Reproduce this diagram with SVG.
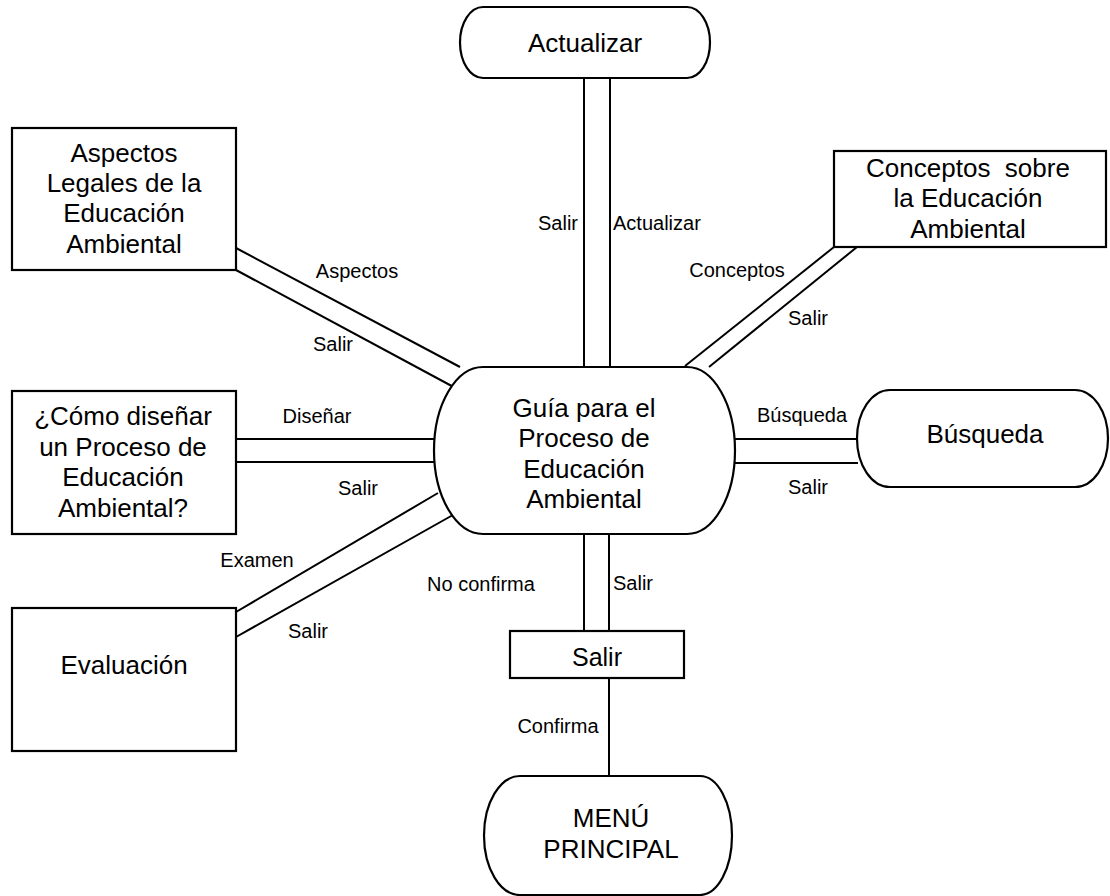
<svg xmlns="http://www.w3.org/2000/svg" width="1110" height="896" viewBox="0 0 1110 896">
  <style>
    .shape { fill: #ffffff; stroke: #000000; stroke-width: 2.2; }
    .link { stroke: #000000; stroke-width: 2; fill: none; }
    .node-text { font-family: "Liberation Sans", Arial, sans-serif; font-size: 26px; fill: #000000; text-anchor: middle; }
    .label { font-family: "Liberation Sans", Arial, sans-serif; font-size: 20px; fill: #000000; }
    .mid { text-anchor: middle; }
    .end { text-anchor: end; }
  </style>
  <rect width="1110" height="896" fill="#ffffff"/>

  <!-- connectors (drawn first, nodes sit on top) -->
  <g id="connectors">
    <!-- Actualizar -->
    <line class="link" x1="584" y1="78" x2="584" y2="367"/>
    <line class="link" x1="610" y1="78" x2="610" y2="367"/>
    <!-- Aspectos -->
    <line class="link" x1="236" y1="248" x2="460" y2="367"/>
    <line class="link" x1="236" y1="270" x2="461" y2="391"/>
    <!-- Conceptos -->
    <line class="link" x1="834" y1="247" x2="685" y2="366"/>
    <line class="link" x1="857" y1="247" x2="709" y2="367"/>
    <!-- Diseñar -->
    <line class="link" x1="236" y1="439" x2="435" y2="439"/>
    <line class="link" x1="236" y1="462" x2="435" y2="462"/>
    <!-- Búsqueda -->
    <line class="link" x1="734" y1="439" x2="857" y2="439"/>
    <line class="link" x1="734" y1="463" x2="858" y2="463"/>
    <!-- Examen -->
    <line class="link" x1="236" y1="612" x2="438" y2="493"/>
    <line class="link" x1="236" y1="637" x2="460" y2="511"/>
    <!-- Salir -->
    <line class="link" x1="584" y1="534" x2="584" y2="631"/>
    <line class="link" x1="609" y1="534" x2="609" y2="631"/>
    <!-- Confirma -->
    <line class="link" x1="609" y1="678" x2="609" y2="776"/>

    <!-- connector labels -->
    <text class="label end" x="578" y="230">Salir</text>
    <text class="label" x="613" y="230">Actualizar</text>
    <text class="label mid" x="357" y="278">Aspectos</text>
    <text class="label mid" x="333" y="351">Salir</text>
    <text class="label mid" x="737" y="277">Conceptos</text>
    <text class="label mid" x="808" y="325">Salir</text>
    <text class="label mid" x="317" y="423">Diseñar</text>
    <text class="label mid" x="358" y="495">Salir</text>
    <text class="label mid" x="802" y="422">Búsqueda</text>
    <text class="label mid" x="808" y="494">Salir</text>
    <text class="label mid" x="257" y="567">Examen</text>
    <text class="label mid" x="308" y="638">Salir</text>
    <text class="label mid" x="481" y="591">No confirma</text>
    <text class="label" x="613" y="590">Salir</text>
    <text class="label mid" x="558" y="733">Confirma</text>
  </g>

  <!-- central terminal node -->
  <g id="guia">
    <path class="shape" d="M483,367 H687 A48,83.5 0 0 1 687,534 H483 A49,83.5 0 0 1 483,367 Z"/>
    <text class="node-text" x="584" y="417">Guía para el</text>
    <text class="node-text" x="584" y="447">Proceso de</text>
    <text class="node-text" x="584" y="478">Educación</text>
    <text class="node-text" x="584" y="508">Ambiental</text>
  </g>

  <g id="actualizar">
    <path class="shape" d="M483,7 H687 A23,35.5 0 0 1 687,78 H483 A23,35.5 0 0 1 483,7 Z"/>
    <text class="node-text" x="585" y="52">Actualizar</text>
  </g>

  <g id="aspectos">
    <rect class="shape" x="12" y="128" width="224" height="142"/>
    <text class="node-text" x="124" y="162">Aspectos</text>
    <text class="node-text" x="124" y="192">Legales de la</text>
    <text class="node-text" x="124" y="222">Educación</text>
    <text class="node-text" x="124" y="253">Ambiental</text>
  </g>

  <g id="conceptos">
    <rect class="shape" x="834" y="151" width="272" height="96"/>
    <text class="node-text" x="968" y="177" xml:space="preserve">Conceptos  sobre</text>
    <text class="node-text" x="968" y="207">la Educación</text>
    <text class="node-text" x="968" y="238">Ambiental</text>
  </g>

  <g id="disenar">
    <rect class="shape" x="12" y="391" width="224" height="143"/>
    <text class="node-text" x="123" y="425">¿Cómo diseñar</text>
    <text class="node-text" x="123" y="456">un Proceso de</text>
    <text class="node-text" x="123" y="486">Educación</text>
    <text class="node-text" x="123" y="517">Ambiental?</text>
  </g>

  <g id="busqueda">
    <path class="shape" d="M890,390 H1075 A33,48.5 0 0 1 1075,487 H890 A33,48.5 0 0 1 890,390 Z"/>
    <text class="node-text" x="985" y="443">Búsqueda</text>
  </g>

  <g id="evaluacion">
    <rect class="shape" x="12" y="608" width="224" height="143"/>
    <text class="node-text" x="124" y="674">Evaluación</text>
  </g>

  <g id="salir">
    <rect class="shape" x="510" y="631" width="174" height="47"/>
    <text class="node-text" x="597" y="666" style="font-size:25px">Salir</text>
  </g>

  <g id="menu-principal">
    <path class="shape" d="M520,776 H700 A32,59.5 0 0 1 700,895 H520 A36,59.5 0 0 1 520,776 Z"/>
    <text class="node-text" x="611" y="827">MENÚ</text>
    <text class="node-text" x="611" y="858">PRINCIPAL</text>
  </g>
</svg>
